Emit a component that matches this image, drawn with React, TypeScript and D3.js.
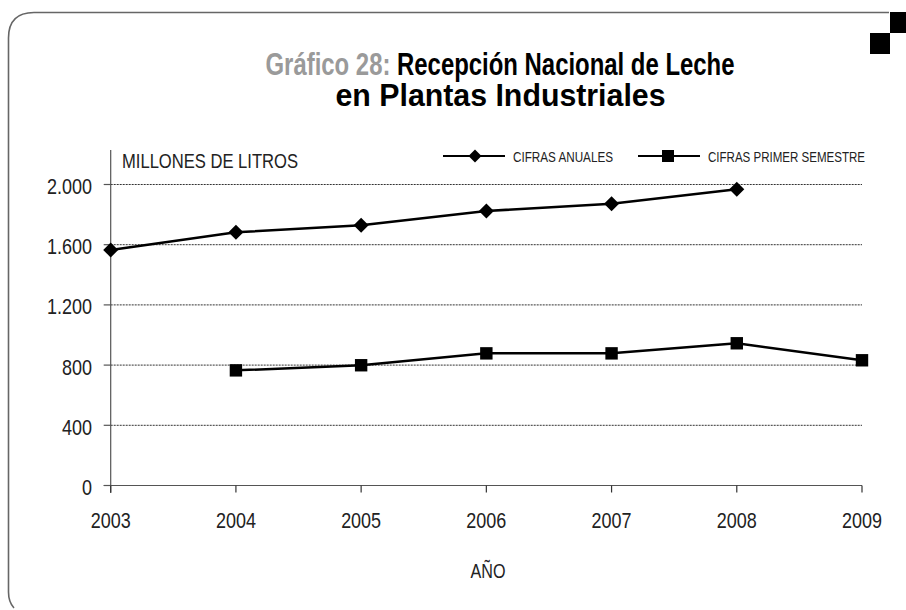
import React from "react";
import * as d3 from "d3";

// data (millones de litros)
const years = [2003, 2004, 2005, 2006, 2007, 2008, 2009];
const anuales = [1565, 1682, 1729, 1824, 1872, 1968];
const anualesYears = [2003, 2004, 2005, 2006, 2007, 2008];
const semestre = [765, 799, 878, 878, 945, 832];
const semestreYears = [2004, 2005, 2006, 2007, 2008, 2009];
const yTicks = [0, 400, 800, 1200, 1600, 2000];

const FONT = "'Liberation Sans', Arial, sans-serif";

const fmt = (v: number) => d3.format(",")(v).replace(/,/g, ".");
// width of a condensed numeric label: ~10px per digit, ~5px per dot
const numWidth = (s: string) => s.split("").reduce((w, c) => w + (c === "." ? 5 : 10), 0);

// condensed text: squeeze glyphs to a fixed width
const Txt = (p: { x: number; y: number; w: number; size: number; anchor?: string; bold?: boolean; fill?: string; children: React.ReactNode }) => (
    <text
        x={p.x}
        y={p.y}
        textAnchor={p.anchor || "start"}
        fontFamily={FONT}
        fontSize={p.size}
        fontWeight={p.bold ? "bold" : "normal"}
        fill={p.fill || "#222"}
        textLength={p.w}
        lengthAdjust="spacingAndGlyphs"
    >
        {p.children}
    </text>
);

const App = () => {
    const width = 906;
    const height = 610;

    const x = d3.scaleLinear().domain([2003, 2009]).range([110.7, 862]);
    const y = d3.scaleLinear().domain([0, 2000]).range([485.5, 184.5]);

    const line = d3.line<[number, number]>().x((d) => x(d[0])).y((d) => y(d[1]));
    const anualPts: [number, number][] = anualesYears.map((yr, i) => [yr, anuales[i]]);
    const semPts: [number, number][] = semestreYears.map((yr, i) => [yr, semestre[i]]);

    const diamond = (cx: number, cy: number, r: number) =>
        `M${cx},${cy - r}L${cx + r},${cy}L${cx},${cy + r}L${cx - r},${cy}Z`;

    return (
        <svg width={width} height={height} style={{ position: "absolute", left: 0, top: 0, background: "#fff" }}>
            {/* frame */}
            <path d="M889,12.5 L34,12.5 Q8.5,12.5 8.5,38 L8.5,592 Q8.5,602 14,608" fill="none" stroke="#666" strokeWidth={1.6} />
            <rect x={890} y={12} width={16} height={21} fill="#000" />
            <rect x={870} y={33} width={20} height={21} fill="#000" />

            {/* title */}
            <Txt x={500} y={75} w={469} size={31} anchor="middle" bold fill="#000">
                <tspan fill="#9a9a9a">Gráfico 28: </tspan>Recepción Nacional de Leche
            </Txt>
            <Txt x={500.5} y={106} w={330} size={31} anchor="middle" bold fill="#000">
                en Plantas Industriales
            </Txt>

            {/* grid */}
            {yTicks.filter((t) => t > 0).map((t) => (
                <line key={t} x1={x(2003)} x2={x(2009)} y1={y(t)} y2={y(t)} stroke="#333" strokeWidth={1} strokeDasharray="2,1" />
            ))}

            {/* y axis */}
            <line x1={x(2003)} x2={x(2003)} y1={150} y2={493} stroke="#555" strokeWidth={1.2} />
            {yTicks.map((t) => (
                <g key={t}>
                    <line x1={x(2003) - 7} x2={x(2003)} y1={y(t)} y2={y(t)} stroke="#555" strokeWidth={1.2} />
                    <Txt x={92} y={y(t) + 9.5} w={numWidth(fmt(t))} size={22.5} anchor="end">
                        {fmt(t)}
                    </Txt>
                </g>
            ))}

            {/* x axis */}
            <line x1={x(2003) - 7} x2={x(2009)} y1={y(0)} y2={y(0)} stroke="#555" strokeWidth={1.2} />
            {years.map((yr) => (
                <g key={yr}>
                    <line x1={x(yr)} x2={x(yr)} y1={y(0)} y2={y(0) + 7} stroke="#333" strokeWidth={1.2} />
                    <Txt x={x(yr)} y={527.5} w={numWidth(String(yr))} size={22.5} anchor="middle">
                        {yr}
                    </Txt>
                </g>
            ))}

            <Txt x={122} y={168} w={176} size={21}>MILLONES DE LITROS</Txt>
            <Txt x={488} y={578} w={35} size={21} anchor="middle">AÑO</Txt>

            {/* series */}
            <path d={line(anualPts) || ""} fill="none" stroke="#000" strokeWidth={2.5} />
            {anualPts.map((p) => (
                <path key={p[0]} d={diamond(x(p[0]), y(p[1]), 7.5)} fill="#000" />
            ))}
            <path d={line(semPts) || ""} fill="none" stroke="#000" strokeWidth={2.5} />
            {semPts.map((p) => (
                <rect key={p[0]} x={x(p[0]) - 6.2} y={y(p[1]) - 6.2} width={12.4} height={12.4} fill="#000" />
            ))}

            {/* legend */}
            <line x1={443} x2={505} y1={156} y2={156} stroke="#000" strokeWidth={2} />
            <path d={diamond(475, 156, 6.5)} fill="#000" />
            <Txt x={513} y={162} w={100} size={14}>CIFRAS ANUALES</Txt>
            <line x1={638} x2={700} y1={156} y2={156} stroke="#000" strokeWidth={2} />
            <rect x={662} y={150} width={12} height={12} fill="#000" />
            <Txt x={708} y={162} w={157} size={14}>CIFRAS PRIMER SEMESTRE</Txt>
        </svg>
    );
};

export default App;
